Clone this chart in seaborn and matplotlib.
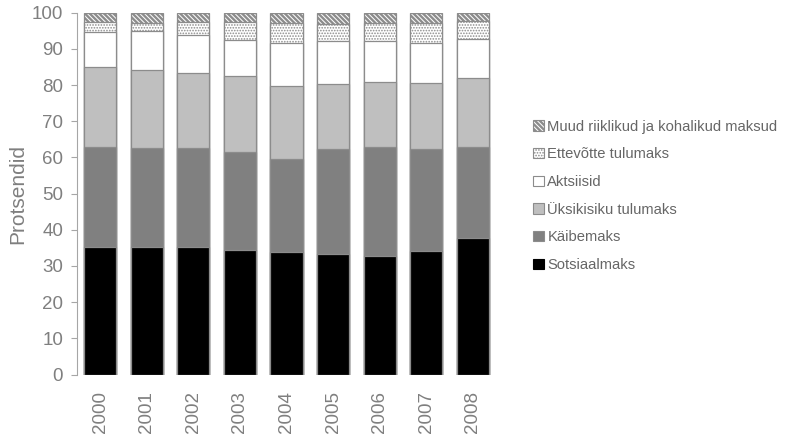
import numpy as np
import pandas as pd
import matplotlib
matplotlib.use("Agg")
import matplotlib.pyplot as plt
import seaborn as sns
from matplotlib.patches import Patch

# === Data (percent shares) ===
years = ["2000", "2001", "2002", "2003", "2004", "2005", "2006", "2007", "2008"]
sotsiaalmaks = [35.2, 35.2, 35.3, 34.3, 33.8, 33.4, 32.8, 34.1, 37.7]
kaibemaks = [27.8, 27.5, 27.4, 27.1, 25.7, 28.8, 30.2, 28.3, 25.3]
uksikisiku = [22.0, 21.5, 20.6, 21.0, 20.2, 18.0, 17.9, 18.2, 18.9]
aktsiisid = [9.6, 10.6, 10.6, 10.0, 12.0, 12.0, 11.2, 11.1, 10.8]
ettevotte = [2.8, 2.4, 3.5, 5.0, 5.5, 4.7, 5.0, 5.4, 5.1]
muud = [2.6, 2.8, 2.6, 2.6, 2.8, 3.1, 2.9, 2.9, 2.2]

series_names = ["Sotsiaalmaks", "Käibemaks", "Üksikisiku tulumaks", "Aktsiisid",
                "Ettevõtte tulumaks", "Muud riiklikud ja kohalikud maksud"]
series_vals = [sotsiaalmaks, kaibemaks, uksikisiku, aktsiisid, ettevotte, muud]
fills = ["#000000", "#808080", "#bfbfbf", "#ffffff", "#ffffff", "#ffffff"]
hatches = [None, None, None, None, "......", "\\" * 7]
hatch_lw = [1, 1, 1, 1, 0.8, 1.7]

sns.set_style("white")
plt.rcParams["font.family"] = ["Liberation Sans", "DejaVu Sans"]
plt.rcParams["hatch.color"] = "black"

txt = "#7f7f7f"
edge = "#8c8c8c"


def style_hatch(p, lw):
    try:
        p.set_hatchcolor("black")
    except AttributeError:
        pass
    try:
        p.set_hatch_linewidth(lw)
    except AttributeError:
        p._hatch_linewidth = lw


df = pd.DataFrame({"year": years})
for name, vals in zip(series_names, series_vals):
    df[name] = vals
cum = df[series_names].cumsum(axis=1)
cum["year"] = years

fig = plt.figure(figsize=(7.85, 4.37), dpi=100)
ax = fig.add_axes([0.098, 0.143, 0.534, 0.828])

# draw from the top layer down so lower layers cover upper ones
for i in reversed(range(len(series_names))):
    name = series_names[i]
    sns.barplot(data=cum, x="year", y=name, color=fills[i], saturation=1,
                width=0.69, edgecolor=edge, linewidth=0.9, hatch=hatches[i], ax=ax)
    if hatches[i]:
        for p in ax.patches[-len(years):]:
            style_hatch(p, hatch_lw[i])

ax.set_xlim(-0.5, 8.5)
ax.set_ylim(0, 100)
ax.set_yticks(np.arange(0, 101, 10))
ax.set_xlabel("")
ax.set_ylabel("Protsendid", fontsize=15, color=txt, labelpad=3)
for s in ["top", "right", "bottom"]:
    ax.spines[s].set_visible(False)
ax.spines["left"].set_color("#a6a6a6")
ax.tick_params(axis="y", length=4, color="#a6a6a6", labelsize=13.5, labelcolor=txt, pad=6, left=True)
ax.tick_params(axis="x", length=0, labelsize=13.5, labelcolor=txt, pad=12, rotation=90)

handles = []
for i in reversed(range(len(series_names))):
    h = Patch(facecolor=fills[i], edgecolor=edge if i > 0 else "#000000",
              hatch=hatches[i], label=series_names[i], linewidth=0.8)
    handles.append(h)
leg = fig.legend(handles=handles, loc="upper left", bbox_to_anchor=(0.672, 0.74),
                 frameon=False, fontsize=10.6, handlelength=0.7, handleheight=0.7,
                 handletextpad=0.25, labelspacing=0.93, borderaxespad=0)
for t in leg.get_texts():
    t.set_color("#666666")
for h, i in zip(leg.legend_handles, reversed(range(len(series_names)))):
    if hatches[i]:
        style_hatch(h, hatch_lw[i])

fig.savefig("out.png", dpi=100)
